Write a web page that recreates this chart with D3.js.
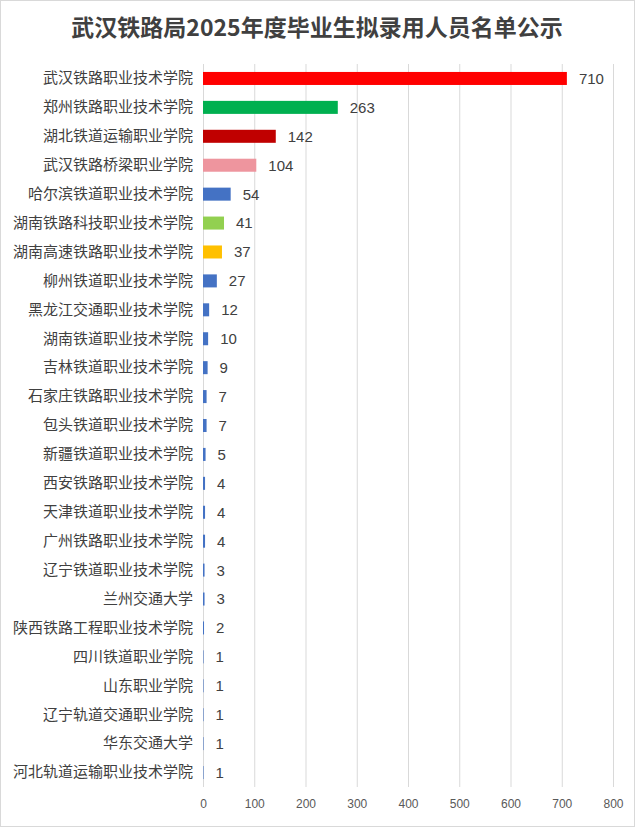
<!DOCTYPE html>
<html><head><meta charset="utf-8">
<script src="https://cdn.jsdelivr.net/npm/d3@7"></script>
<style>html,body{margin:0;padding:0;background:#fff;}svg{display:block;}</style>
</head><body>
<script>
const title = "武汉铁路局2025年度毕业生拟录用人员名单公示";
const categories = ["武汉铁路职业技术学院","郑州铁路职业技术学院","湖北铁道运输职业学院","武汉铁路桥梁职业学院","哈尔滨铁道职业技术学院","湖南铁路科技职业技术学院","湖南高速铁路职业技术学院","柳州铁道职业技术学院","黑龙江交通职业技术学院","湖南铁道职业技术学院","吉林铁道职业技术学院","石家庄铁路职业技术学院","包头铁道职业技术学院","新疆铁道职业技术学院","西安铁路职业技术学院","天津铁道职业技术学院","广州铁路职业技术学院","辽宁铁道职业技术学院","兰州交通大学","陕西铁路工程职业技术学院","四川铁道职业学院","山东职业学院","辽宁轨道交通职业学院","华东交通大学","河北轨道运输职业技术学院"];
const values = [710,263,142,104,54,41,37,27,12,10,9,7,7,5,4,4,4,3,3,2,1,1,1,1,1];
const barColors = ["#FF0000","#00B050","#C00000","#EE959E","#4472C4","#92D050","#FFC000","#4472C4","#4472C4","#4472C4","#4472C4","#4472C4","#4472C4","#4472C4","#4472C4","#4472C4","#4472C4","#4472C4","#4472C4","#4472C4","#4472C4","#4472C4","#4472C4","#4472C4","#4472C4"];
const xTicks = [0,100,200,300,400,500,600,700,800];

const W = 635, H = 827;
const svg = d3.select("body").append("svg").attr("width", W).attr("height", H);
svg.append("rect").attr("x",0.5).attr("y",0.5).attr("width",W-1).attr("height",H-1)
  .attr("fill","#fff").attr("stroke","#D9D9D9");

svg.append("text").attr("x",317).attr("y",36).attr("text-anchor","middle")
  .attr("font-family","'Noto Sans CJK SC', sans-serif").attr("font-weight","bold")
  .attr("font-size",23).attr("fill","#404040").text(title);

const x = d3.scaleLinear().domain([0,800]).range([203,613]);
const y = d3.scaleBand().domain(categories).range([64,787]).paddingInner(0.55).paddingOuter(0.275);

const grid = svg.append("g");
grid.selectAll("line").data(xTicks).join("line")
  .attr("x1",d=>x(d)+0.5).attr("x2",d=>x(d)+0.5).attr("y1",64).attr("y2",787)
  .attr("stroke","#D9D9D9").attr("stroke-width",1);

const xAxis = svg.append("g").attr("transform","translate(0,787)")
  .call(d3.axisBottom(x).tickValues(xTicks).tickSize(0).tickPadding(12));
xAxis.select(".domain").remove();
xAxis.selectAll("text").attr("font-family","'Liberation Sans', sans-serif").attr("font-size",12).attr("fill","#595959");

const yAxis = svg.append("g").attr("transform","translate(203,0)")
  .call(d3.axisLeft(y).tickSize(0).tickPadding(10));
yAxis.select(".domain").remove();
yAxis.selectAll("text").attr("font-family","'Noto Sans CJK SC', sans-serif").attr("font-size",15).attr("fill","#404040");

svg.append("g").selectAll("rect").data(values).join("rect")
  .attr("x",x(0)).attr("y",(d,i)=>y(categories[i]))
  .attr("width",d=>Math.max(x(d)-x(0),0)).attr("height",y.bandwidth())
  .attr("fill",(d,i)=>barColors[i]);

svg.append("g").selectAll("text").data(values).join("text")
  .attr("x",d=>x(d)+12).attr("y",(d,i)=>y(categories[i])+y.bandwidth()/2)
  .attr("dy","0.36em").attr("font-family","'Liberation Sans', sans-serif").attr("font-size",15).attr("fill","#404040")
  .text(d=>d);
</script>
</body></html>
